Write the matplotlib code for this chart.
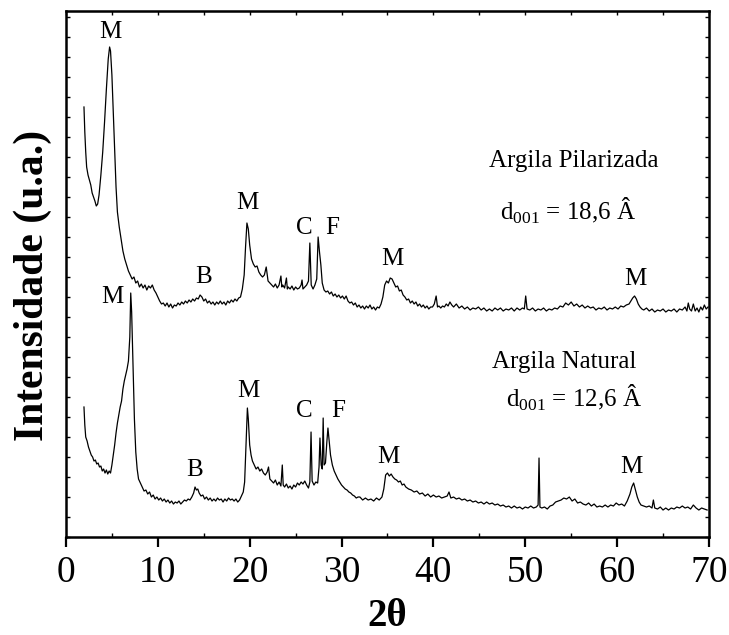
import matplotlib
matplotlib.use('Agg')
import matplotlib.pyplot as plt
import numpy as np

plt.rcParams['font.family'] = ['Liberation Serif', 'DejaVu Serif']
plt.rcParams['mathtext.fontset'] = 'custom'
plt.rcParams['mathtext.rm'] = 'Liberation Serif'

# Argila Pilarizada (curva de cima), intensidade em u.a.
pil_x = [1.96, 2.05, 2.15, 2.25, 2.40, 2.55, 2.70, 2.85, 3.00, 3.15,
         3.30, 3.45, 3.60, 3.80, 4.00, 4.20, 4.40, 4.60, 4.75, 4.85,
         5.00, 5.15, 5.30, 5.45, 5.60, 5.80, 6.00, 6.20, 6.40, 6.60,
         6.80, 7.00, 7.20, 7.40, 7.60, 7.80, 8.00, 8.20, 8.40, 8.60,
         8.80, 9.00, 9.20, 9.40, 9.60, 9.80, 10.00, 10.20, 10.40, 10.60,
         10.8, 11.0, 11.2, 11.4, 11.6, 11.8, 12.0, 12.2, 12.4, 12.6,
         12.8, 13.0, 13.2, 13.4, 13.6, 13.8, 14.0, 14.2, 14.4, 14.6,
         14.8, 15.0, 15.2, 15.4, 15.6, 15.8, 16.0, 16.2, 16.4, 16.6,
         16.8, 17.0, 17.2, 17.4, 17.6, 17.8, 18.0, 18.2, 18.4, 18.6,
         18.8, 19.0, 19.2,
         19.40, 19.55, 19.70, 19.85, 20.00, 20.20, 20.40, 20.60, 20.80, 21.00,
         21.20, 21.40, 21.60, 21.80, 22.00, 22.20, 22.40, 22.60, 22.80, 23.00,
         23.20, 23.40, 23.50, 23.60, 23.80, 24.00, 24.10, 24.20, 24.40, 24.60,
         24.80, 25.00, 25.20, 25.40, 25.60, 25.70, 25.80, 26.00, 26.20, 26.40,
         26.55, 26.70, 26.90, 27.10, 27.30, 27.45, 27.60, 27.75, 27.90, 28.10,
         28.30, 28.50,
         28.7, 28.9, 29.1, 29.3, 29.5, 29.7, 29.9, 30.1, 30.3, 30.5,
         30.7, 30.9, 31.1, 31.3, 31.5, 31.7, 31.9, 32.1, 32.3, 32.5,
         32.7, 32.9, 33.1, 33.3, 33.5, 33.7, 33.9, 34.1, 34.3, 34.5,
         34.7, 34.9, 35.1, 35.3, 35.5, 35.7, 35.9, 36.1, 36.3, 36.5,
         36.7, 36.9, 37.1, 37.3, 37.5, 37.7, 37.9, 38.1, 38.3, 38.5,
         38.7, 38.9, 39.1, 39.3, 39.5, 39.7, 39.9, 40.1, 40.3, 40.45,
         40.6,
         40.8, 41.0, 41.2, 41.4, 41.6, 41.8, 42.0, 42.2, 42.5, 42.8,
         43.1, 43.4, 43.7, 44.0, 44.3, 44.6, 44.9, 45.2, 45.5, 45.8,
         46.1, 46.4, 46.7, 47.0, 47.3, 47.6, 47.9, 48.2, 48.5, 48.8,
         49.1, 49.4, 49.7, 49.9, 50.05, 50.2, 50.5, 50.8, 51.1, 51.4,
         51.7, 52.0, 52.3, 52.6, 52.9, 53.2, 53.5, 53.8, 54.1, 54.4,
         54.7, 55.0, 55.3, 55.6, 55.9, 56.2, 56.5, 56.8, 57.1, 57.4,
         57.7, 58.0, 58.3, 58.6, 58.9, 59.2, 59.5, 59.8, 60.1, 60.4,
         60.7, 61.0, 61.3, 61.5, 61.7, 61.9, 62.1, 62.3, 62.5, 62.7,
         62.9, 63.2, 63.5, 63.8, 64.1, 64.4, 64.7, 65.0, 65.3, 65.6,
         65.9, 66.2, 66.5, 66.8, 67.1, 67.4, 67.6, 67.75, 67.9, 68.1,
         68.3, 68.5, 68.7, 68.9, 69.1, 69.3, 69.5, 69.7, 69.9]
pil_y = [430, 405, 385, 370, 362, 357, 352, 344, 340, 336,
         331, 333, 342, 362, 385, 415, 448, 478, 490, 486,
         462, 425, 390, 350, 325, 310, 298, 286, 278, 272,
         266, 262, 258, 260, 254, 256, 250, 253, 249, 252,
         247, 251, 249, 252, 247, 244, 240, 236, 233, 234,
         231, 234, 230, 233, 229, 232, 231, 234, 232, 235,
         233, 236, 234, 237, 235, 238, 236, 239, 238, 242,
         240, 236, 238, 234, 236, 233, 235, 232, 235, 233,
         236, 233, 235, 232, 236, 234, 237, 235, 238, 236,
         239, 240, 248,
         262, 290, 314, 308, 292, 278, 273, 270, 271, 265,
         262, 260, 262, 270, 256, 254, 252, 250, 253, 249,
         252, 261, 250, 252, 249, 259, 248, 250, 248, 251,
         247, 250, 248, 249, 252, 257, 248, 250, 252, 256,
         294, 252, 248, 252, 258, 300, 285, 272, 254, 247,
         245, 246,
         243, 245, 241, 243, 240, 242, 239, 241, 238, 241,
         236, 234, 235, 232, 234, 230, 232, 229, 231, 228,
         231, 229, 232, 228, 230, 227, 230, 229, 233, 240,
         252, 256, 254, 259, 258, 254, 250, 251, 246, 247,
         242, 240, 237, 238, 234, 236, 233, 235, 231, 233,
         230, 232, 229, 231, 228, 230, 230, 233, 241, 230,
         231,
         229, 231, 230, 233, 231, 235, 232, 230, 233, 229,
         231, 228, 230, 227, 229, 228, 230, 227, 229, 226,
         228, 226, 229, 227, 229, 226, 228, 227, 229, 226,
         229, 227, 229, 228, 241, 228, 227, 229, 226, 228,
         227, 229, 226, 228, 227, 229, 228, 231, 230, 234,
         232, 235, 231, 233, 230, 232, 229, 231, 229, 230,
         227, 229, 228, 230, 227, 229, 228, 230, 228, 231,
         230, 232, 233, 236, 239, 241, 238, 233, 230, 228,
         227, 229, 226, 228, 225, 227, 226, 228, 225, 227,
         226, 228, 225, 228, 227, 230, 226, 234, 228, 226,
         233, 226, 229, 225, 230, 227, 232, 228, 230]

# Argila Natural (curva de baixo)
nat_x = [1.96, 2.05, 2.15, 2.30, 2.45, 2.60, 2.75, 2.90, 3.05, 3.20,
         3.35, 3.50, 3.65, 3.80, 3.95, 4.10, 4.25, 4.40, 4.55, 4.70,
         4.85, 5.00, 5.15, 5.30, 5.45, 5.60, 5.75, 5.90, 6.05, 6.20,
         6.35, 6.50, 6.65, 6.80, 6.95, 7.05, 7.15, 7.30, 7.45, 7.60,
         7.75, 7.90, 8.10, 8.30, 8.50, 8.70, 8.90, 9.10, 9.30, 9.50,
         9.70, 9.90, 10.10, 10.30, 10.50,
         10.7, 10.9, 11.1, 11.3, 11.5, 11.7, 11.9, 12.1, 12.3, 12.5,
         12.7, 12.9, 13.1, 13.3, 13.5, 13.7, 13.9, 14.05, 14.2, 14.35,
         14.5, 14.7, 14.9, 15.1, 15.3, 15.5, 15.7, 15.9, 16.1, 16.3,
         16.5, 16.7, 16.9, 17.1, 17.3, 17.5, 17.7, 17.9, 18.1, 18.3,
         18.5, 18.7, 18.9, 19.1, 19.3,
         19.45, 19.60, 19.75, 19.85, 20.00, 20.15, 20.30, 20.50, 20.70, 20.90,
         21.10, 21.30, 21.50, 21.70, 21.90, 22.05, 22.20, 22.40, 22.60, 22.80,
         23.00, 23.20, 23.40, 23.55, 23.65, 23.80, 24.00, 24.20, 24.40, 24.60,
         24.80, 25.00, 25.20, 25.40, 25.60, 25.80, 26.00, 26.20, 26.40, 26.55,
         26.68, 26.80, 27.00, 27.20, 27.40, 27.55, 27.65, 27.78, 27.90, 28.00,
         28.10, 28.25, 28.40, 28.52, 28.65, 28.80, 29.00, 29.20, 29.40, 29.60,
         29.80, 30.00, 30.20, 30.40, 30.60, 30.80, 31.00, 31.20, 31.40, 31.60,
         31.80,
         32.0, 32.3, 32.6, 32.9, 33.2, 33.5, 33.8, 34.1, 34.4, 34.6,
         34.8, 35.0, 35.2, 35.4, 35.6, 35.8, 36.0, 36.2, 36.4, 36.6,
         36.8, 37.0, 37.3, 37.6, 37.9, 38.2, 38.5, 38.8, 39.1, 39.4,
         39.7, 40.0, 40.3, 40.6, 40.9, 41.2, 41.5, 41.7, 41.9, 42.2,
         42.5, 42.8, 43.1, 43.4, 43.7, 44.0, 44.3, 44.6, 44.9, 45.2,
         45.5, 45.8, 46.1, 46.4, 46.7, 47.0, 47.3, 47.6, 47.9, 48.2,
         48.5, 48.8, 49.1, 49.4, 49.7, 50.0, 50.3, 50.6, 50.9, 51.2,
         51.4, 51.5, 51.6, 51.8, 52.1, 52.4, 52.7, 53.0, 53.3, 53.6,
         53.9, 54.2, 54.5, 54.8, 55.1, 55.4, 55.7, 56.0, 56.3, 56.6,
         56.9, 57.2, 57.5, 57.8, 58.1, 58.4, 58.7, 59.0, 59.3, 59.6,
         59.9, 60.2, 60.5, 60.8, 61.1, 61.4, 61.6, 61.8, 62.0, 62.2,
         62.4, 62.6, 62.9, 63.2, 63.5, 63.8, 63.95, 64.1, 64.4, 64.7,
         65.0, 65.3, 65.6, 65.9, 66.2, 66.5, 66.8, 67.1, 67.4, 67.7,
         68.0, 68.3, 68.6, 68.9, 69.2, 69.5, 69.8]
nat_y = [130, 112, 100, 96, 90, 86, 82, 80, 76, 77,
         73, 74, 70, 71, 66, 68, 64, 67, 63, 66,
         64, 72, 82, 92, 104, 114, 122, 130, 136, 148,
         156, 162, 168, 176, 200, 244, 225, 170, 118, 85,
         68, 58, 54, 50, 46, 47, 43, 45, 40, 42,
         38, 40, 37, 39, 36,
         38, 35, 37, 34, 36, 33, 35, 34, 36, 33,
         35, 37, 36, 38, 37, 40, 44, 50, 47, 48,
         44, 41, 42, 38, 40, 37, 39, 36, 38, 36,
         39, 37, 38, 35, 38, 36, 39, 37, 38, 36,
         38, 35, 37, 41, 45,
         55, 92, 129, 118, 92, 82, 76, 72, 68, 70,
         66, 68, 64, 62, 65, 70, 58, 56, 54, 57,
         52, 55, 51, 72, 52, 50, 53, 49, 51, 48,
         52, 50, 54, 52, 55, 53, 56, 52, 49, 55,
         105, 56, 52, 55, 54, 70, 99, 72, 68, 119,
         72, 74, 95, 109, 96, 82, 72, 66, 62, 58,
         55, 52, 50, 48, 47, 45, 44, 42, 41, 39,
         40,
         40, 37, 39, 37, 38, 36, 39, 37, 40, 48,
         62, 64, 61, 63, 60, 58, 57, 55, 56, 52,
         53, 50, 48, 47, 45, 46, 43, 44, 41, 43,
         40, 42, 40, 41, 39, 40, 41, 45, 39, 40,
         38, 39, 37, 38, 36, 37, 35, 36, 34, 35,
         33, 35, 33, 34, 32, 33, 31, 32, 30, 31,
         29, 31, 29, 30, 28, 30, 29, 31, 29, 30,
         32, 79, 30, 29, 30, 28, 31, 32, 35, 36,
         37, 39, 38, 40, 36, 38, 34, 35, 33, 32,
         34, 31, 33, 30, 31, 30, 32, 30, 32, 31,
         34, 32, 33, 31, 36, 43, 50, 54, 47, 40,
         35, 32, 31, 30, 31, 29, 37, 29, 28, 30,
         27, 29, 27, 29, 28, 30, 29, 31, 29, 30,
         28, 32, 29, 27, 29, 28, 27]

# rotulos das fases: (texto, 2theta, intensidade da linha de base do texto)
pil_labels = [('M', 4.83, 499), ('B', 15.0, 254), ('M', 19.8, 328), ('C', 26.0, 303),
              ('F', 29.0, 303), ('M', 35.5, 272), ('M', 62.0, 252)]
nat_labels = [('M', 5.06, 234), ('B', 14.0, 61), ('M', 19.9, 140), ('C', 26.0, 120),
              ('F', 29.6, 120), ('M', 35.1, 74), ('M', 61.6, 64)]

fig = plt.figure(figsize=(7.29, 6.35), dpi=100)
ax = fig.add_axes([0.0905, 0.1543, 0.882, 0.8284])

ax.plot(pil_x, pil_y, color='black', lw=0.9)
ax.plot(nat_x, nat_y, color='black', lw=0.9)

for txt, x, y in pil_labels + nat_labels:
    ax.text(x, y, txt, ha='center', va='baseline', fontsize=18)

ax.text(55.25, 370, 'Argila Pilarizada', ha='center', va='baseline', fontsize=18)
ax.text(54.7, 317, r'd$_{\mathregular{001}}$ = 18,6 Â', ha='center', va='baseline', fontsize=18)
ax.text(54.2, 169, 'Argila Natural', ha='center', va='baseline', fontsize=18)
ax.text(55.3, 130, r'd$_{\mathregular{001}}$ = 12,6 Â', ha='center', va='baseline', fontsize=18)

ax.set_xlim(0, 70)
ax.set_ylim(0, 526)
ax.set_xticks(np.arange(0, 71, 10))
ax.set_xticks(np.arange(5, 70, 10), minor=True)
ax.set_yticks(np.arange(0, 521, 20))
ax.set_yticklabels([])

ax.tick_params(axis='x', which='major', direction='out', length=7, width=1.6,
               labelsize=27, pad=6)
ax.tick_params(axis='x', which='minor', direction='in', length=3, width=1)
ax.tick_params(axis='y', which='major', direction='in', length=3, width=1,
               left=True, right=True)

top = ax.secondary_xaxis('top')
top.set_xticks(np.arange(0, 71, 5))
top.tick_params(direction='in', length=3, width=1, labeltop=False)
top.set_xticklabels([])

for s in ax.spines.values():
    s.set_linewidth(1.8)

ax.set_xlabel('2θ', fontsize=28, fontweight='bold', labelpad=6)
ax.set_ylabel('Intensidade (u.a.)', fontsize=30, fontweight='bold')
ax.yaxis.set_label_coords(-0.022, 0.479)

fig.savefig('out.png', dpi=100)
